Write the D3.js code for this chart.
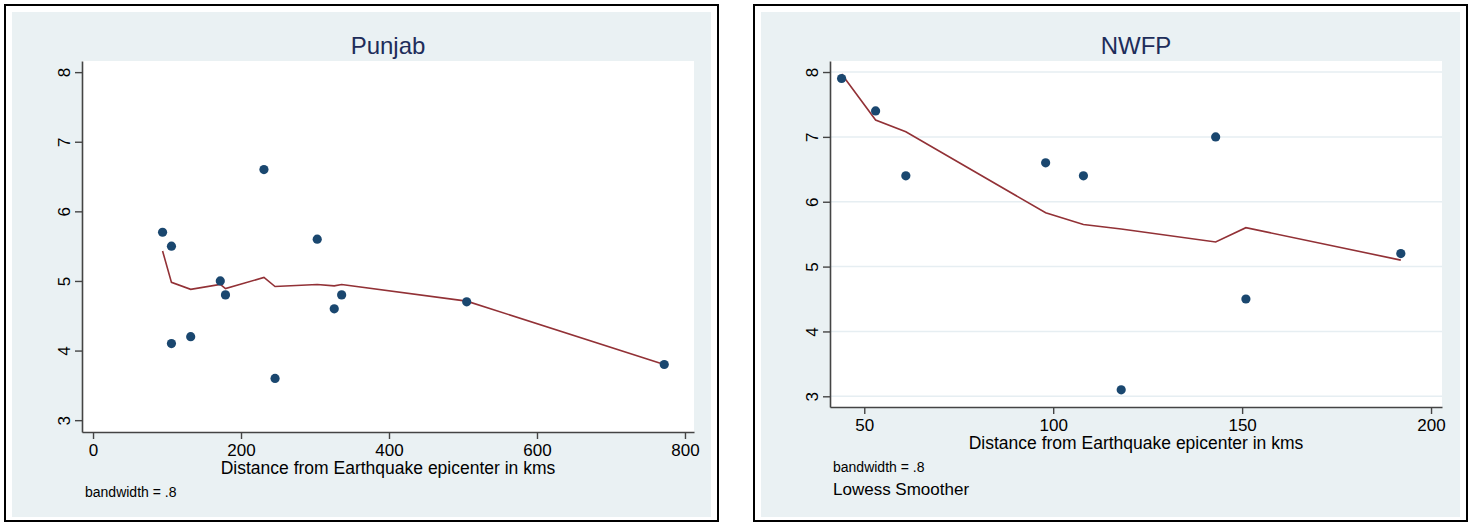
<!DOCTYPE html>
<html>
<head>
<meta charset="utf-8">
<script src="https://cdn.jsdelivr.net/npm/d3@7"></script>
<style>
	body { margin: 0; background: #fff; }
	svg text { font-family: "Liberation Sans", Arial, sans-serif; }
</style>
</head>
<body>
<svg id="viewport" width="1472" height="525"></svg>
<script>
/**
 * ----------------------------------------------------------------------------------------------------------
 * Data
 */
var punjabDist = [94, 106, 106, 132, 172, 179, 231, 246, 303, 326, 336, 505, 772];
var punjabMag = [5.7, 5.5, 4.1, 4.2, 5.0, 4.8, 6.6, 3.6, 5.6, 4.6, 4.8, 4.7, 3.8];
var punjabLowessDist = [94, 106, 132, 172, 179, 231, 246, 303, 326, 336, 505, 772];
var punjabLowess = [5.43, 4.98, 4.88, 4.95, 4.89, 5.05, 4.92, 4.95, 4.93, 4.95, 4.71, 3.8];

var nwfpDist = [44, 53, 61, 98, 108, 118, 143, 151, 192];
var nwfpMag = [7.9, 7.4, 6.4, 6.6, 6.4, 3.1, 7.0, 4.5, 5.2];
var nwfpLowess = [7.97, 7.26, 7.08, 5.83, 5.65, 5.58, 5.38, 5.6, 5.1];

var punjabXTicks = [0, 200, 400, 600, 800];
var nwfpXTicks = [50, 100, 150, 200];
var yTicks = [3, 4, 5, 6, 7, 8];

var xTitle = "Distance from Earthquake epicenter in kms";
var noteText = "bandwidth = .8";

var svg = d3.select("#viewport");

/**
 * ----------------------------------------------------------------------------------------------------------
 * One Stata-style panel
 */
function drawPanel(p) {
	var g = svg.append("g");

	// outer frame and graph region
	g.append("rect").attr("x", p.frame[0]).attr("y", 5)
		.attr("width", p.frame[1] - p.frame[0]).attr("height", 516)
		.attr("fill", "#fff").attr("stroke", "#000").attr("stroke-width", 2);
	g.append("rect").attr("x", p.frame[0] + 7).attr("y", 12)
		.attr("width", p.frame[1] - p.frame[0] - 14).attr("height", 505)
		.attr("fill", "#eaf1f3");

	var x = d3.scaleLinear().domain(p.xDomain).range([p.left, p.right]);
	var y = d3.scaleLinear().domain(p.yDomain).range([p.bottom, p.top]);

	// plot region
	g.append("rect").attr("x", p.left).attr("y", p.top)
		.attr("width", p.right - p.left).attr("height", p.bottom - p.top)
		.attr("fill", "#fff");

	if (p.grid) {
		g.append("g").selectAll("line").data(yTicks).join("line")
			.attr("x1", p.left).attr("x2", p.right)
			.attr("y1", function(d) { return y(d); })
			.attr("y2", function(d) { return y(d); })
			.attr("stroke", "#e6eef2").attr("stroke-width", 1.5);
	}

	// axes
	var xAxis = g.append("g").attr("transform", "translate(0," + p.bottom + ")")
		.call(d3.axisBottom(x).tickValues(p.xTicks).tickFormat(d3.format("d"))
			.tickSize(7).tickPadding(5).tickSizeOuter(0));
	var yAxis = g.append("g").attr("transform", "translate(" + p.left + ",0)")
		.call(d3.axisLeft(y).tickValues(yTicks).tickFormat(d3.format("d"))
			.tickSize(7).tickPadding(6).tickSizeOuter(0));

	[xAxis, yAxis].forEach(function(a) {
		a.select(".domain").attr("stroke", "#444").attr("stroke-width", 1.6);
		a.selectAll(".tick line").attr("stroke", "#444").attr("stroke-width", 1.4);
		a.selectAll("text").attr("font-family", null).attr("fill", "#000").attr("font-size", 17);
	});
	xAxis.selectAll("text").attr("dy", "0.71em");
	// rotated y labels
	yAxis.selectAll(".tick text")
		.attr("x", null).attr("dy", null)
		.attr("text-anchor", "middle")
		.attr("transform", "translate(-12,0) rotate(-90)")
		.attr("dy", "0em");

	// lowess line
	var line = d3.line()
		.x(function(d) { return x(d[0]); })
		.y(function(d) { return y(d[1]); });
	g.append("path").datum(d3.zip(p.lineX, p.lineY))
		.attr("d", line).attr("fill", "none")
		.attr("stroke", "#923136").attr("stroke-width", 1.6);

	// markers
	g.append("g").selectAll("circle").data(d3.zip(p.px, p.py)).join("circle")
		.attr("cx", function(d) { return x(d[0]); })
		.attr("cy", function(d) { return y(d[1]); })
		.attr("r", 4.6)
		.attr("fill", "#1a476f");

	// texts
	g.append("text").attr("x", (p.left + p.right) / 2).attr("y", 54)
		.attr("text-anchor", "middle").attr("font-size", 24).attr("fill", "#1e2d5a")
		.text(p.title);
	g.append("text").attr("x", (p.left + p.right) / 2).attr("y", p.bottom + 42)
		.attr("text-anchor", "middle").attr("font-size", 17.5).attr("fill", "#000")
		.text(xTitle);
	g.append("text").attr("x", p.left + 3).attr("y", p.bottom + 65)
		.attr("font-size", 14).attr("fill", "#000")
		.text(noteText);
	if (p.legend) {
		g.append("text").attr("x", p.left + 3).attr("y", p.bottom + 88)
			.attr("font-size", 17).attr("fill", "#000")
			.text(p.legend);
	}
}

drawPanel({
	title: "Punjab", frame: [5, 718],
	left: 82, right: 694, top: 61, bottom: 432,
	xDomain: [-14.9, 812.2], yDomain: [2.83, 8.16],
	xTicks: punjabXTicks, grid: false,
	px: punjabDist, py: punjabMag, lineX: punjabLowessDist, lineY: punjabLowess
});

drawPanel({
	title: "NWFP", frame: [754, 1467],
	left: 830, right: 1442, top: 61, bottom: 407,
	xDomain: [40.93, 202.9], yDomain: [2.835, 8.17],
	xTicks: nwfpXTicks, grid: true, legend: "Lowess Smoother",
	px: nwfpDist, py: nwfpMag, lineX: nwfpDist, lineY: nwfpLowess
});
</script>
</body>
</html>
